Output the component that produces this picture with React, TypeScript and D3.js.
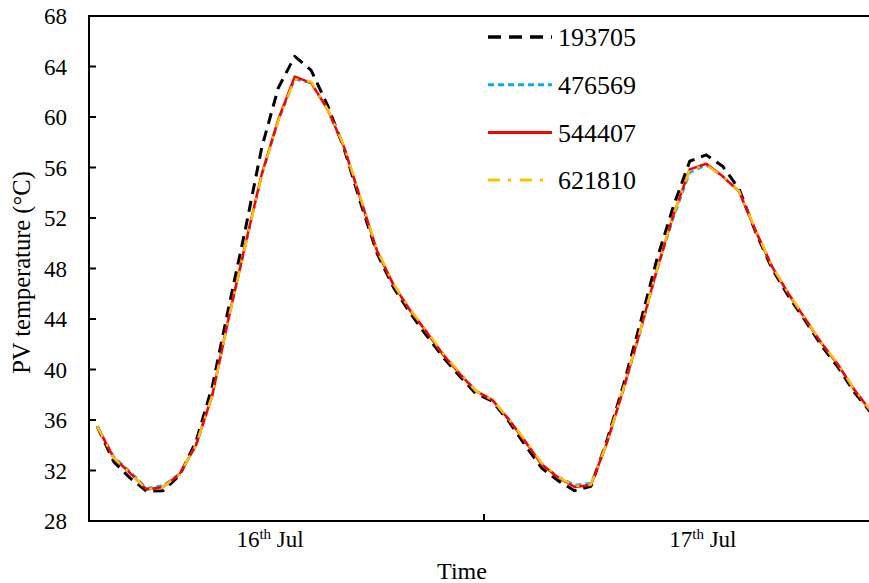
import React from "react";
import * as d3 from "d3";

const series193705 = [35.5, 32.7, 31.4, 30.35, 30.4, 31.6, 34.3, 38.7, 45.0, 51.1, 57.6, 62.3, 64.8, 63.7, 60.9, 57.5, 53.2, 49.2, 46.5, 44.5, 42.7, 41.0, 39.5, 38.1,
  37.5, 35.9, 34.0, 32.2, 31.2, 30.4, 30.75, 34.5, 38.9, 43.7, 48.7, 52.9, 56.5, 57.0, 56.1, 54.3, 50.9, 48.0, 45.8, 43.9, 41.9, 40.2, 38.2, 36.6];
const series476569 = [35.5, 33.1, 31.9, 30.6, 30.8, 31.75, 34.0, 38.0, 44.1, 49.8, 55.4, 59.7, 63.0, 62.7, 60.6, 57.6, 53.5, 49.4, 46.7, 44.7, 43.0, 41.2, 39.7, 38.3,
  37.6, 36.05, 34.3, 32.5, 31.5, 30.85, 31.0, 34.3, 38.5, 43.0, 47.8, 52.0, 55.6, 56.2, 55.3, 54.1, 51.0, 48.15, 46.0, 44.05, 42.1, 40.4, 38.4, 36.7];
const series544407 = [35.5, 33.0, 31.8, 30.5, 30.7, 31.7, 34.0, 38.0, 44.2, 49.9, 55.5, 59.8, 63.2, 62.7, 60.6, 57.6, 53.5, 49.4, 46.7, 44.7, 43.0, 41.2, 39.7, 38.3,
  37.6, 36.05, 34.3, 32.5, 31.45, 30.7, 30.85, 34.3, 38.6, 43.1, 47.9, 52.2, 55.85, 56.3, 55.3, 54.1, 51.0, 48.15, 46.0, 44.05, 42.1, 40.4, 38.4, 36.7];
const series621810 = [35.5, 33.0, 31.8, 30.5, 30.7, 31.7, 34.0, 38.0, 44.1, 49.8, 55.4, 59.7, 63.0, 62.8, 60.6, 57.7, 53.6, 49.5, 46.8, 44.8, 43.1, 41.3, 39.8, 38.3,
  37.6, 36.1, 34.4, 32.6, 31.5, 30.75, 30.9, 34.3, 38.6, 43.1, 47.9, 52.2, 55.8, 56.2, 55.3, 54.1, 51.1, 48.2, 46.05, 44.1, 42.15, 40.45, 38.45, 36.75];

const seriesNames = ["193705", "476569", "544407", "621810"];
const yTicks = [28, 32, 36, 40, 44, 48, 52, 56, 60, 64, 68];
const dayLabels = ["16", "17"];
const dayLabelPos = [11.0, 37.3];
const dayBoundaries = [24];
const hoursTotal = 48;

const styles = [
  { color: "#000000", width: 3, dash: "11,7" },
  { color: "#00B0F0", width: 2.5, dash: "6,4" },
  { color: "#FF0000", width: 2.5, dash: "" },
  { color: "#FFC000", width: 2.5, dash: "12,8,3,9" },
];

export default function App() {
  const W = 869, H = 583;
  const left = 89, top = 16, bottom = 521, right = 879;
  const x = d3.scaleLinear().domain([0, hoursTotal]).range([left, right]);
  const y = d3.scaleLinear().domain([28, 68]).range([bottom, top]);
  const all = [series193705, series476569, series544407, series621810];
  const line = d3.line<number>().x((_, i) => x(i + 0.5)).y((d) => y(d));
  const font = "'Liberation Serif', 'Times New Roman', serif";

  return (
    <div style={{ position: "absolute", left: 0, top: 0 }}>
      <svg width={W} height={H} style={{ display: "block", background: "#fff" }} fontFamily={font}>
        <rect x={0} y={0} width={W} height={H} fill="#fff" />
        {all.map((s, k) => (
          <path key={k} d={line(s) || ""} fill="none" stroke={styles[k].color} strokeWidth={styles[k].width}
            strokeDasharray={styles[k].dash || undefined} strokeLinejoin="round" />
        ))}
        <line x1={left} x2={right} y1={top} y2={top} stroke="#000" strokeWidth={2} />
        <line x1={left} x2={left} y1={top - 1} y2={bottom + 1} stroke="#000" strokeWidth={2} />
        <line x1={left - 1} x2={right} y1={bottom} y2={bottom} stroke="#000" strokeWidth={2} />
        {yTicks.map((t) => (
          <g key={t}>
            {t !== 28 && t !== 68 && <line x1={left} x2={left + 7} y1={y(t)} y2={y(t)} stroke="#000" strokeWidth={2} />}
            <text x={67} y={y(t)} dy="0.35em" textAnchor="end" fontSize={23} fill="#000">{t}</text>
          </g>
        ))}
        {dayBoundaries.map((b) => (
          <line key={b} x1={x(b)} x2={x(b)} y1={bottom} y2={bottom - 7} stroke="#000" strokeWidth={2} />
        ))}
        {dayLabels.map((d, i) => (
          <text key={d} x={x(dayLabelPos[i])} y={547} textAnchor="middle" fontSize={23} fill="#000">
            {d}<tspan dy={-8} fontSize={15}>th</tspan><tspan dy={8}> Jul</tspan>
          </text>
        ))}
        <text x={462} y={579} textAnchor="middle" fontSize={24} fill="#000">Time</text>
        <text transform={`rotate(-90)`} x={-(top + bottom) / 2 - 4} y={30} textAnchor="middle" fontSize={24.5} fill="#000">PV temperature (°C)</text>
        {seriesNames.map((n, k) => {
          const ly = 37 + k * 47.7;
          return (
            <g key={n}>
              <line x1={488} x2={552} y1={ly} y2={ly} stroke={styles[k].color} strokeWidth={styles[k].width + 0.5}
                strokeDasharray={k === 0 ? "13,8" : styles[k].dash || undefined} />
              <text x={558} y={ly} dy="0.35em" fontSize={26} fill="#000">{n}</text>
            </g>
          );
        })}
      </svg>
    </div>
  );
}
